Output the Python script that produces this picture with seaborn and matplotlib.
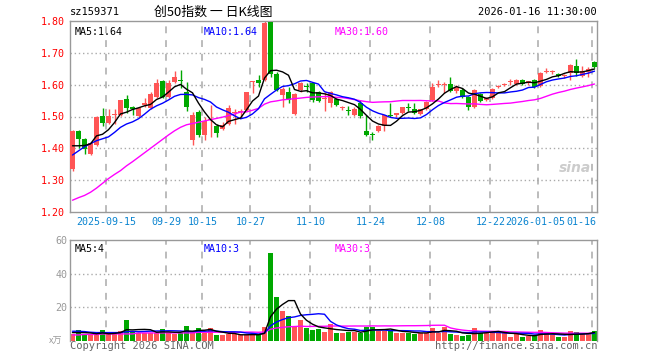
import numpy as np
import pandas as pd
import matplotlib
matplotlib.use("Agg")
import matplotlib.pyplot as plt
import matplotlib.transforms as mtrans
import seaborn as sns

sns.set_theme(style="white")
plt.rcParams["font.family"] = ["DejaVu Sans Mono", "Noto Sans CJK SC"]

# ---------------- data ----------------
opens = [1.334, 1.455, 1.429, 1.383, 1.410, 1.501, 1.480, 1.504, 1.504, 1.554,
         1.530, 1.501, 1.535, 1.527, 1.561, 1.610, 1.561, 1.608, 1.616, 1.577,
         1.426, 1.515, 1.442, 1.488, 1.470, 1.462, 1.478, 1.510, 1.515, 1.520,
         1.609, 1.614, 1.615, 1.798, 1.633, 1.568, 1.578, 1.509, 1.582, 1.595,
         1.604, 1.578, 1.555, 1.543, 1.555, 1.527, 1.521, 1.505, 1.541, 1.455,
         1.443, 1.455, 1.471, 1.503, 1.506, 1.510, 1.529, 1.523, 1.508, 1.523,
         1.552, 1.600, 1.599, 1.602, 1.581, 1.583, 1.562, 1.531, 1.572, 1.552,
         1.558, 1.592, 1.600, 1.609, 1.601, 1.615, 1.604, 1.614, 1.595, 1.641,
         1.639, 1.632, 1.628, 1.636, 1.659, 1.628, 1.640, 1.670]
highs = [1.457, 1.457, 1.431, 1.418, 1.501, 1.528, 1.522, 1.522, 1.553, 1.568,
         1.534, 1.530, 1.559, 1.577, 1.617, 1.614, 1.614, 1.642, 1.645, 1.608,
         1.515, 1.520, 1.497, 1.535, 1.478, 1.483, 1.535, 1.522, 1.522, 1.578,
         1.613, 1.630, 1.800, 1.800, 1.640, 1.592, 1.592, 1.575, 1.607, 1.604,
         1.606, 1.580, 1.578, 1.581, 1.558, 1.533, 1.533, 1.530, 1.552, 1.505,
         1.452, 1.473, 1.506, 1.543, 1.512, 1.531, 1.541, 1.543, 1.525, 1.549,
         1.604, 1.615, 1.608, 1.625, 1.598, 1.590, 1.565, 1.585, 1.575, 1.562,
         1.590, 1.600, 1.606, 1.617, 1.618, 1.618, 1.613, 1.617, 1.640, 1.651,
         1.646, 1.636, 1.634, 1.664, 1.681, 1.660, 1.655, 1.675]
lows = [1.330, 1.400, 1.381, 1.380, 1.407, 1.471, 1.478, 1.478, 1.502, 1.512,
        1.504, 1.499, 1.530, 1.525, 1.559, 1.559, 1.559, 1.606, 1.588, 1.517,
        1.412, 1.437, 1.426, 1.436, 1.436, 1.459, 1.473, 1.478, 1.500, 1.518,
        1.574, 1.594, 1.612, 1.625, 1.581, 1.530, 1.541, 1.505, 1.578, 1.578,
        1.547, 1.544, 1.518, 1.531, 1.534, 1.520, 1.505, 1.503, 1.494, 1.440,
        1.426, 1.452, 1.455, 1.499, 1.500, 1.508, 1.518, 1.508, 1.506, 1.521,
        1.550, 1.592, 1.573, 1.578, 1.575, 1.558, 1.519, 1.528, 1.545, 1.548,
        1.556, 1.590, 1.595, 1.600, 1.598, 1.598, 1.600, 1.590, 1.593, 1.636,
        1.633, 1.625, 1.620, 1.615, 1.628, 1.625, 1.625, 1.652]
closes = [1.455, 1.429, 1.397, 1.416, 1.499, 1.480, 1.501, 1.509, 1.551, 1.527,
          1.522, 1.527, 1.541, 1.572, 1.605, 1.561, 1.604, 1.624, 1.610, 1.530,
          1.504, 1.442, 1.485, 1.491, 1.447, 1.473, 1.527, 1.512, 1.517, 1.576,
          1.611, 1.605, 1.795, 1.633, 1.583, 1.585, 1.552, 1.571, 1.604, 1.593,
          1.552, 1.550, 1.557, 1.578, 1.536, 1.529, 1.518, 1.525, 1.503, 1.442,
          1.441, 1.471, 1.505, 1.501, 1.508, 1.529, 1.527, 1.510, 1.523, 1.547,
          1.592, 1.603, 1.601, 1.581, 1.593, 1.562, 1.531, 1.583, 1.550, 1.558,
          1.587, 1.594, 1.602, 1.611, 1.615, 1.601, 1.610, 1.593, 1.636, 1.643,
          1.641, 1.628, 1.630, 1.662, 1.636, 1.644, 1.650, 1.654]
volumes = [4, 6.5, 3.5, 3.5, 4, 6.5, 4, 4.5, 6, 12.5,
           6, 5, 5, 5, 5, 7, 5, 4, 5, 9,
           6, 7.5, 4.5, 7.5, 3.5, 3.5, 4, 4, 3.5, 3.5,
           4, 3.5, 8.5, 52.5, 26, 18, 15, 8.5, 12.5, 7.5,
           6.5, 7, 5.5, 10, 5, 5, 5.5, 5.5, 5, 8.5,
           8.5, 6, 6, 6.5, 5, 5, 5, 4, 5, 5,
           8, 5, 8.5, 4, 3.5, 3, 3.5, 8, 5, 5,
           5.5, 5, 5, 2.5, 4, 2.5, 3, 3.5, 6.5, 5,
           3.5, 2.5, 2.5, 6, 5.5, 4, 4, 6]

# moving-average values for the first days of the window
ma5_head = [1.408, 1.408, 1.409, 1.414]
ma10_head = [1.379, 1.392, 1.405, 1.415, 1.424, 1.430, 1.436, 1.450, 1.466]
ma30_head = [1.237, 1.245, 1.252, 1.262, 1.275, 1.290, 1.305, 1.318, 1.330, 1.345,
             1.358, 1.372, 1.386, 1.400, 1.414, 1.428, 1.442, 1.455, 1.466, 1.474,
             1.478, 1.482, 1.486, 1.490, 1.494, 1.498, 1.503, 1.508, 1.514]
vma5_head = [5.0, 5.0, 5.0, 4.8]
vma10_head = [5.8, 5.8, 5.6, 5.2, 5.0, 5.0, 5.0, 5.0, 5.0]
vma30_head = [3.6, 3.6, 3.9, 3.9, 3.9, 4.2, 4.2, 4.2, 4.2, 4.2,
              4.2, 4.8, 4.8, 4.8, 4.8, 4.8, 4.8, 4.8, 4.8, 4.8,
              4.8, 5.2, 5.2, 5.2, 5.2, 5.2, 5.2, 5.2, 5.2]

# legend texts as printed on the chart
price_ma_labels = ["MA5:1.64", "MA10:1.64", "MA30:1.60"]
vol_ma_labels = ["MA5:4", "MA10:3", "MA30:3"]

date_idx = [6, 16, 22, 30, 40, 50, 60, 70, 78, 87]
date_labels = ["2025-09-15", "09-29", "10-15", "10-27", "11-10", "11-24",
               "12-08", "12-22", "2026-01-05", "01-16"]
price_ticks = [1.20, 1.30, 1.40, 1.50, 1.60, 1.70, 1.80]
vol_ticks = [20, 40, 60]

RED = "#ff5555"
GREEN = "#00a800"
GRID = "#aaaaaa"
BORDER = "#999999"
MA_COLORS = ["black", "#0000ff", "#ff00ff"]


def moving(values, n, head):
    s = pd.Series(values, dtype=float).rolling(n).mean().to_numpy()
    s[:len(head)] = head
    return s


df = pd.DataFrame({"o": opens, "h": highs, "l": lows, "c": closes, "v": volumes})
df["i"] = np.arange(len(df))
df["up"] = df["c"] >= df["o"]
df["col"] = np.where(df["up"], RED, GREEN)
df["ma5"] = moving(closes, 5, ma5_head)
df["ma10"] = moving(closes, 10, ma10_head)
df["ma30"] = moving(closes, 30, ma30_head)
df["vma5"] = moving(volumes, 5, vma5_head)
df["vma10"] = moving(volumes, 10, vma10_head)
df["vma30"] = moving(volumes, 30, vma30_head)

W, H = 660, 360
fig = plt.figure(figsize=(W / 100, H / 100), dpi=100)
fig.patch.set_facecolor("white")

L, R = 70, 597
ax1 = fig.add_axes([L / W, 1 - 212 / H, (R - L) / W, (212 - 21) / H])
ax2 = fig.add_axes([L / W, 1 - 341 / H, (R - L) / W, (341 - 240) / H])

xmin, xmax = -0.417, 87.417
LINE_OFF = 0.36
FS = 7.2
LABEL_X = [0.009, 0.254, 0.502]

for ax in (ax1, ax2):
    ax.set_facecolor("white")
    ax.set_xlim(xmin, xmax)
    ax.set_xticks([])
    for x in date_idx:
        ax.axvline(x - LINE_OFF, color=GRID, lw=1.1, ls=(0, (4.5, 4.5)), zorder=0)

# ---------------- price panel ----------------
ax1.set_ylim(1.20, 1.80)
for p in price_ticks[1:-1]:
    ax1.axhline(p, color=GRID, lw=1, ls=(0, (1, 2)), zorder=0)

body_h = np.maximum((df["c"] - df["o"]).abs(), 0.0035)
body_b = np.minimum(df["c"], df["o"])
ax1.vlines(df["i"], df["l"], df["h"], colors=df["col"], lw=1, zorder=2)
ax1.bar(df["i"], body_h, bottom=body_b, width=0.82, color=df["col"],
        linewidth=0, zorder=3)

sns.lineplot(x=df["i"], y=df["ma30"], ax=ax1, color=MA_COLORS[2], lw=1, zorder=4)
sns.lineplot(x=df["i"], y=df["ma10"], ax=ax1, color=MA_COLORS[1], lw=1, zorder=5)
sns.lineplot(x=df["i"], y=df["ma5"], ax=ax1, color=MA_COLORS[0], lw=1, zorder=6)

ax1.set_yticks(price_ticks)
ax1.set_yticklabels([f"{p:.2f}" for p in price_ticks])
ax1.tick_params(axis="y", length=0, pad=4, labelsize=FS, labelcolor="#ff0000")
ax1.set_xlabel("")
ax1.set_ylabel("")

for s in ax1.spines.values():
    s.set_color(BORDER)
    s.set_linewidth(1)

for xl, lab, c in zip(LABEL_X, price_ma_labels, MA_COLORS):
    ax1.text(xl, 0.97, lab, transform=ax1.transAxes, color=c, fontsize=FS,
             va="top", ha="left", zorder=10)

# sina watermark
ax1.text((575 - L) / (R - L), (212 - 168) / (212 - 21), "sina",
         transform=ax1.transAxes, color="#cccccc", fontsize=10,
         fontstyle="italic", fontweight="bold", ha="center", va="center",
         family="DejaVu Sans")

# date labels
blend = mtrans.blended_transform_factory(ax1.transData, ax1.transAxes)
ylab = -(222 - 212) / (212 - 21)
for x, lab in zip(date_idx, date_labels):
    if lab == "01-16":
        ax1.text((596 - L) / (R - L), ylab, lab, transform=ax1.transAxes,
                 ha="right", va="center", fontsize=FS, color="#0a84d0")
    elif lab == "2026-01-05":
        ax1.text((565 - L) / (R - L), ylab, lab, transform=ax1.transAxes,
                 ha="right", va="center", fontsize=FS, color="#0a84d0")
    else:
        ax1.text(x - LINE_OFF, ylab, lab, transform=blend, ha="center",
                 va="center", fontsize=FS, color="#0a84d0")

# ---------------- volume panel ----------------
ax2.set_ylim(0, 60)
for v in vol_ticks[:-1]:
    ax2.axhline(v, color=GRID, lw=1, ls=(0, (1, 2)), zorder=0)
ax2.bar(df["i"], df["v"], width=0.82, color=df["col"], linewidth=0, zorder=2)
sns.lineplot(x=df["i"], y=df["vma30"], ax=ax2, color=MA_COLORS[2], lw=1, zorder=4)
sns.lineplot(x=df["i"], y=df["vma10"], ax=ax2, color=MA_COLORS[1], lw=1, zorder=5)
sns.lineplot(x=df["i"], y=df["vma5"], ax=ax2, color=MA_COLORS[0], lw=1, zorder=6)
ax2.set_yticks(vol_ticks)
ax2.set_yticklabels([str(v) for v in vol_ticks])
ax2.tick_params(axis="y", length=0, pad=2, labelsize=FS, labelcolor="#999999")
ax2.set_xlabel("")
ax2.set_ylabel("")
for k, s in ax2.spines.items():
    s.set_color(BORDER)
    s.set_linewidth(1)
ax2.spines["bottom"].set_visible(False)

for xl, lab, c in zip(LABEL_X, vol_ma_labels, MA_COLORS):
    ax2.text(xl, 0.96, lab, transform=ax2.transAxes, color=c, fontsize=FS,
             va="top", ha="left", zorder=10)

# ---------------- header / footer texts ----------------
fig.text(70 / W, 1 - 12 / H, "sz159371", fontsize=FS + 0.3, color="black",
         ha="left", va="center")
fig.text(213 / W, 1 - 12 / H, "创50指数 一 日K线图", fontsize=9.3, color="black",
         ha="center", va="center", family=["Noto Sans CJK SC", "DejaVu Sans"])
fig.text(597 / W, 1 - 12 / H, "2026-01-16 11:30:00", fontsize=FS + 0.3,
         color="black", ha="right", va="center")
fig.text(56 / W, 1 - 341 / H, "x万", fontsize=6.5, color="#999999",
         ha="center", va="center", family=["Noto Sans CJK SC", "DejaVu Sans"])
fig.text(70 / W, 1 - 346 / H, "Copyright 2026 SINA.COM", fontsize=FS + 0.3,
         color="#666666", ha="left", va="center")
fig.text(597 / W, 1 - 346 / H, "http://finance.sina.com.cn", fontsize=FS + 0.3,
         color="#666666", ha="right", va="center")

fig.savefig("out.png", dpi=100, facecolor="white")
